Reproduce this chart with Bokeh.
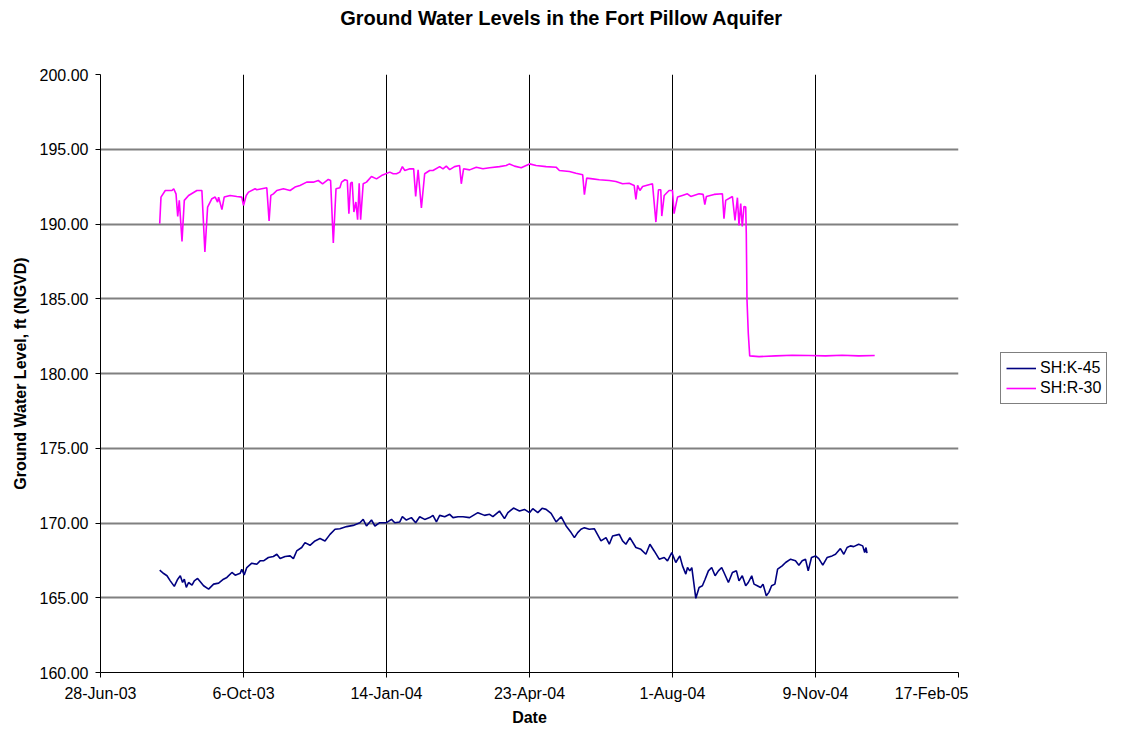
import pandas as pd
from bokeh.plotting import figure
from bokeh.layouts import row, column
from bokeh.models import Legend, LegendItem, FixedTicker, Range1d
from bokeh.core.properties import value
from bokeh.embed import file_html
from bokeh.resources import INLINE

# ---------------- data ----------------
TITLE = "Ground Water Levels in the Fort Pillow Aquifer"
BASE_DATE = "2003-06-28"

x_tick_labels = ["28-Jun-03", "6-Oct-03", "14-Jan-04", "23-Apr-04",
                 "1-Aug-04", "9-Nov-04", "17-Feb-05"]
y_ticks = [160, 165, 170, 175, 180, 185, 190, 195, 200]

series_names = ["SH:K-45", "SH:R-30"]

# SH:K-45 : days after 28-Jun-03, level (ft NGVD)
k45_day = [41.4, 44.2, 46.5, 48.8, 51.6, 54.0, 55.8, 57.4, 58.6, 60.0, 61.6, 64.0,
           65.6, 67.9, 69.8, 72.1, 75.6, 79.1, 82.6, 86.0, 88.4, 91.9, 94.2, 97.7,
           98.8, 100.5, 102.3, 105.8, 109.3, 111.6, 114.0, 117.4, 120.9, 123.3,
           125.6, 129.1, 132.6, 134.9, 137.2, 140.7, 143.0, 146.5, 150.0, 153.5,
           157.0, 160.5, 164.0, 167.4, 172.1, 176.7, 181.4, 183.7, 186.0, 189.5,
           191.9, 195.3, 200.0, 203.5, 205.8, 209.3, 211.1, 213.9, 217.4, 220.4,
           223.2, 226.7, 230.2, 232.5, 234.9, 237.2, 240.7, 244.2, 246.5, 250.0,
           253.5, 258.1, 263.9, 268.6, 272.1, 274.4, 279.0, 282.5, 284.9, 288.8,
           293.0, 296.5, 300.0, 302.3, 305.8, 308.8, 311.6, 315.1, 318.6, 322.1,
           325.6, 329.1, 331.4, 333.7, 336.0, 338.4, 341.8, 345.3, 350.0, 353.5,
           355.8, 358.1, 362.8, 365.1, 367.4, 370.2, 374.4, 377.9, 381.4, 384.2,
           387.2, 390.7, 394.2, 396.5, 399.5, 402.3, 405.1, 407.0, 409.3, 410.5,
           412.1, 413.5, 414.4, 416.3, 418.6, 420.9, 422.8, 425.1, 427.4, 429.8,
           432.1, 434.4, 436.0, 439.1, 441.9, 444.7, 446.5, 448.8, 451.2, 453.0,
           455.4, 457.0, 459.3, 461.6, 463.3, 465.6, 467.4, 469.3, 471.6, 473.5,
           476.7, 479.1, 482.6, 486.0, 488.4, 490.7, 493.0, 494.9, 497.2, 500.0,
           502.3, 505.1, 508.1, 511.6, 514.0, 517.4, 519.8, 522.1, 524.4, 526.7,
           530.2, 533.0, 534.4, 535.3, 536.0]
k45_level = [166.84, 166.62, 166.47, 166.13, 165.76, 166.24, 166.47, 166.02, 166.24,
             165.69, 166.02, 165.84, 166.13, 166.29, 166.07, 165.80, 165.58, 165.91,
             165.98, 166.24, 166.36, 166.69, 166.51, 166.64, 166.91, 166.53, 167.02,
             167.31, 167.24, 167.47, 167.47, 167.69, 167.76, 167.91, 167.62, 167.76,
             167.80, 167.62, 168.13, 168.36, 168.69, 168.51, 168.80, 168.96, 168.80,
             169.24, 169.58, 169.62, 169.76, 169.84, 170.02, 170.24, 169.80, 170.20,
             169.80, 170.02, 170.02, 170.24, 170.02, 170.07, 170.42, 170.20, 170.36,
             170.02, 170.42, 170.24, 170.36, 170.51, 170.07, 170.51, 170.42, 170.58,
             170.36, 170.42, 170.42, 170.36, 170.69, 170.51, 170.58, 170.42, 170.80,
             170.29, 170.69, 171.00, 170.80, 170.91, 170.69, 170.96, 170.69, 170.98,
             170.91, 170.64, 170.07, 170.42, 169.80, 169.36, 169.02, 169.36, 169.58,
             169.69, 169.58, 169.62, 168.80, 169.02, 168.58, 169.13, 169.24, 168.80,
             168.58, 169.02, 168.36, 168.24, 167.91, 168.58, 168.13, 167.58, 167.69,
             167.47, 168.02, 167.36, 167.80, 167.13, 166.58, 167.02, 166.80, 167.02,
             166.36, 164.96, 165.69, 165.80, 166.24, 166.80, 167.02, 166.47, 166.80,
             167.02, 166.69, 166.02, 166.69, 166.80, 166.13, 166.47, 165.80, 166.02,
             166.47, 165.91, 165.80, 165.69, 165.91, 165.13, 165.36, 165.80, 165.91,
             166.91, 167.13, 167.36, 167.58, 167.47, 167.18, 167.47, 167.58, 166.80,
             167.69, 167.80, 167.62, 167.18, 167.69, 167.80, 167.91, 168.29, 167.91,
             168.36, 168.47, 168.42, 168.58, 168.47, 168.02, 168.36, 167.98]

# SH:R-30 : days after 28-Jun-03, level (ft NGVD)
r30_day = [41.4, 42.3, 45.3, 50.0, 51.2, 52.8, 54.0, 55.1, 57.0, 58.6, 61.6, 67.4,
           70.9, 73.0, 74.9, 77.9, 80.2, 81.9, 82.6, 84.9, 86.5, 90.7, 95.3, 98.8,
           100.0, 101.9, 103.5, 108.1, 109.3, 116.3, 117.9, 119.1, 120.9, 123.3,
           127.9, 132.6, 136.0, 139.5, 144.2, 148.8, 152.3, 155.3, 159.3, 160.9,
           162.8, 164.7, 167.4, 168.6, 170.9, 172.6, 173.7, 174.9, 176.0, 177.2,
           178.6, 179.8, 180.9, 181.9, 183.7, 186.0, 189.5, 193.0, 196.5, 202.3,
           204.7, 207.0, 209.3, 211.1, 212.8, 216.3, 219.0, 220.4, 222.1, 224.4,
           226.7, 230.2, 232.5, 237.2, 239.5, 241.8, 244.2, 247.6, 251.1, 252.3,
           253.9, 258.1, 262.8, 267.4, 272.1, 279.0, 283.7, 286.0, 289.5, 294.2,
           300.0, 304.6, 311.6, 318.6, 320.9, 327.9, 332.5, 337.2, 338.4, 340.0,
           344.2, 348.8, 355.8, 360.4, 365.1, 369.7, 373.2, 374.4, 375.6, 377.2,
           379.1, 386.0, 388.4, 390.2, 391.8, 392.5, 394.2, 397.6, 400.0, 401.1,
           403.5, 406.9, 410.4, 412.8, 418.6, 421.4, 422.6, 423.7, 429.1, 434.9,
           436.0, 437.2, 441.9, 443.7, 445.4, 446.5, 447.7, 448.8, 450.0, 451.2,
           451.6, 452.1, 453.0, 454.0, 460.5, 472.1, 483.7, 495.3, 507.0, 518.6,
           530.2, 541.4]
r30_level = [190.02, 191.80, 192.24, 192.24, 192.36, 192.02, 190.51, 191.58, 188.84,
             191.58, 191.91, 192.24, 192.24, 188.13, 191.13, 191.69, 191.80, 191.47,
             191.80, 190.96, 191.80, 191.91, 191.84, 191.80, 191.24, 191.91, 192.13,
             192.36, 192.29, 192.42, 190.20, 191.91, 192.02, 192.24, 192.36, 192.24,
             192.47, 192.58, 192.80, 192.80, 192.91, 192.69, 192.98, 192.91, 188.73,
             192.36, 192.42, 192.80, 192.96, 192.91, 190.69, 192.73, 192.80, 190.80,
             191.47, 190.29, 192.73, 190.29, 192.69, 192.80, 193.18, 193.02, 193.24,
             193.47, 193.36, 193.36, 193.47, 193.84, 193.58, 193.69, 193.69, 191.84,
             193.62, 191.07, 193.36, 193.58, 193.58, 193.84, 193.69, 193.87, 193.64,
             193.84, 193.91, 192.69, 193.69, 193.62, 193.80, 193.69, 193.76, 193.84,
             193.91, 194.02, 193.87, 193.76, 194.02, 193.91, 193.84, 193.80, 193.58,
             193.51, 193.40, 193.29, 191.96, 193.07, 193.02, 192.96, 192.91, 192.84,
             192.69, 192.73, 192.58, 191.64, 192.58, 192.24, 192.51, 192.69, 190.13,
             192.29, 192.29, 190.53, 191.91, 192.24, 192.24, 190.69, 191.80, 191.91,
             192.02, 191.84, 192.02, 191.98, 191.29, 191.84, 191.98, 192.02, 190.36,
             191.58, 191.84, 190.24, 191.76, 189.91, 191.36, 189.84, 191.18, 191.13,
             189.36, 184.91, 182.69, 181.18, 181.13, 181.18, 181.22, 181.20, 181.18,
             181.22, 181.18, 181.20]

series_colors = ["#000080", "#FF00FF"]

# ---------------- conversion ----------------
base = pd.Timestamp(BASE_DATE)
k45_date = base + pd.to_timedelta(k45_day, unit="D")
r30_date = base + pd.to_timedelta(r30_day, unit="D")
tick_dates = pd.to_datetime(x_tick_labels, format="%d-%b-%y")
tick_ms = [float(t.value // 10**6) for t in tick_dates]

FONT = "Liberation Sans"
TOTAL_W = 1108
TITLE_H = 40
MAIN_W = 968
MAIN_H = 683

# ---------------- title strip ----------------
tf = figure(width=TOTAL_W, height=TITLE_H, output_backend="svg",
            toolbar_location=None, x_axis_location=None, y_axis_location=None,
            x_range=Range1d(0, TOTAL_W), y_range=Range1d(0, TITLE_H),
            min_border=0)
tf.outline_line_color = None
tf.grid.visible = False
tf.background_fill_color = "white"
tf.border_fill_color = "white"
tf.text(x=[561], y=[23], text=[TITLE], text_font=value(FONT),
        text_font_style="bold", text_font_size="20px", text_color="black",
        text_align="center", text_baseline="middle")

# ---------------- main plot ----------------
p = figure(x_axis_type="datetime", output_backend="svg", toolbar_location=None,
           width=MAIN_W, height=MAIN_H,
           frame_width=858, frame_height=598,
           min_border_left=100, min_border_right=10,
           min_border_top=34, min_border_bottom=51,
           x_range=Range1d(tick_ms[0], tick_ms[-1]),
           y_range=Range1d(y_ticks[0], y_ticks[-1]))
p.background_fill_color = "white"
p.border_fill_color = "white"
p.outline_line_color = None

p.line(k45_date, k45_level, line_color=series_colors[0], line_width=1.6)
p.line(r30_date, r30_level, line_color=series_colors[1], line_width=1.6)

xa = p.xaxis[0]
xa.ticker = FixedTicker(ticks=tick_ms)
xa.major_label_overrides = {t: lab for t, lab in zip(tick_ms, x_tick_labels)}
xa.minor_tick_line_color = None
xa.major_tick_in = 0
xa.major_tick_out = 5
xa.axis_line_color = "black"
xa.major_tick_line_color = "black"
xa.major_label_text_font = FONT
xa.major_label_text_font_size = "16px"
xa.major_label_text_color = "black"
xa.major_label_standoff = 7
xa.axis_label = "Date"
xa.axis_label_text_font = FONT
xa.axis_label_text_font_style = "bold"
xa.axis_label_text_font_size = "16px"
xa.axis_label_text_color = "black"
xa.axis_label_standoff = 4

ya = p.yaxis[0]
ya.ticker = FixedTicker(ticks=y_ticks)
ya.major_label_overrides = {v: f"{v:.2f}" for v in y_ticks}
ya.minor_tick_line_color = None
ya.major_tick_in = 0
ya.major_tick_out = 5
ya.axis_line_color = "black"
ya.major_tick_line_color = "black"
ya.major_label_text_font = FONT
ya.major_label_text_font_size = "16px"
ya.major_label_text_color = "black"
ya.major_label_standoff = 7
ya.axis_label = "Ground Water Level, ft (NGVD)"
ya.axis_label_text_font = FONT
ya.axis_label_text_font_style = "bold"
ya.axis_label_text_font_size = "16px"
ya.axis_label_text_color = "black"
ya.axis_label_standoff = 8

p.xgrid.grid_line_color = "black"
p.xgrid.grid_line_width = 1
p.ygrid.grid_line_color = "#808080"
p.ygrid.grid_line_width = 2

# ---------------- legend panel ----------------
# the legend's own renderers carry the same series but lie outside its (empty) view
lf = figure(width=TOTAL_W - MAIN_W, height=MAIN_H, output_backend="svg",
            toolbar_location=None, x_axis_location=None, y_axis_location=None,
            x_range=Range1d(0, 1), y_range=Range1d(0, 1), min_border=0)
lf.outline_line_color = None
lf.grid.visible = False
lf.background_fill_color = "white"
lf.border_fill_color = "white"
lk = lf.line(k45_day, k45_level, line_color=series_colors[0], line_width=1.6)
lr = lf.line(r30_day, r30_level, line_color=series_colors[1], line_width=1.6)

legend = Legend(items=[LegendItem(label=series_names[0], renderers=[lk]),
                       LegendItem(label=series_names[1], renderers=[lr])],
                location=(32, 263), orientation="vertical")
legend.label_text_font = FONT
legend.label_text_font_size = "16px"
legend.label_text_color = "black"
legend.glyph_width = 30
legend.glyph_height = 20
legend.label_height = 20
legend.label_standoff = 4
legend.spacing = 0
legend.padding = 5
legend.margin = 0
legend.border_line_color = "black"
legend.border_line_width = 1
legend.background_fill_color = "white"
legend.background_fill_alpha = 1
lf.add_layout(legend)

layout = column(tf, row(p, lf, spacing=0), spacing=0)
open("out.html", "w").write(file_html(layout, INLINE))
